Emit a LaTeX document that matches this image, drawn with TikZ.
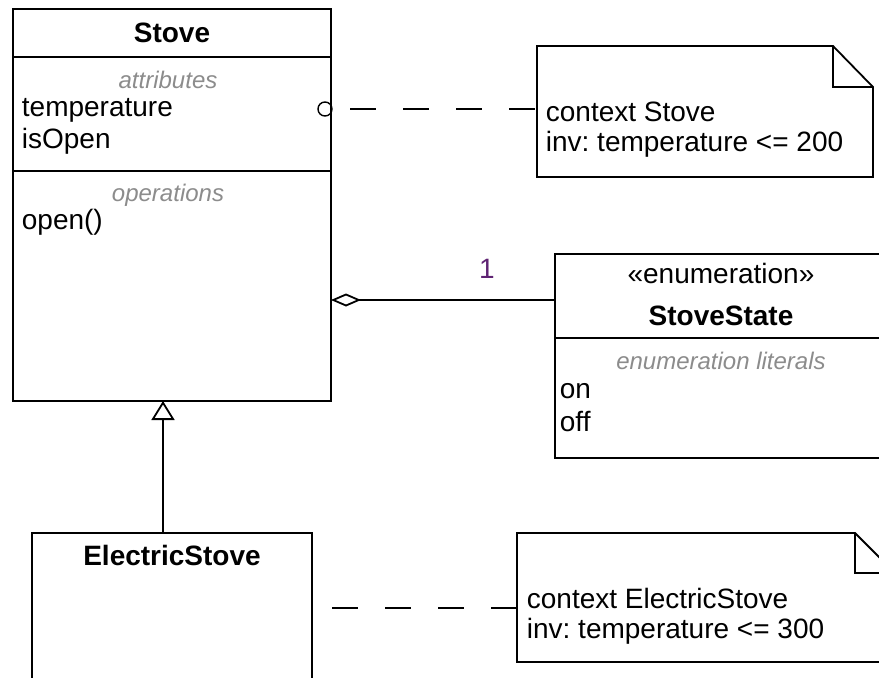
\documentclass[tikz,border=0pt]{standalone}
\usepackage{fontspec}
\setmainfont{Liberation Sans}
\usetikzlibrary{positioning, arrows.meta}

\definecolor{labelgray}{RGB}{140,140,140}
\definecolor{multcol}{RGB}{95,35,115}

\frenchspacing

\begin{document}
\begin{tikzpicture}[
    x=1pt, y=-1pt,
    line width=1.8pt,
    classbox/.style={
        rectangle, draw=black, line width=1.8pt,
        inner sep=0pt, outer sep=0pt},
    notebox/.style={
        rectangle, draw=none, inner sep=0pt, outer sep=0pt},
    cname/.style={
        anchor=base, inner sep=0pt,
        font=\fontsize{28}{30}\selectfont\bfseries},
    member/.style={
        anchor=base west, inner sep=0pt,
        font=\fontsize{28}{30}\selectfont},
    compart/.style={
        anchor=base, inner sep=0pt, text=labelgray,
        font=\fontsize{24}{28}\selectfont\itshape},
    stereo/.style={
        anchor=base, inner sep=0pt,
        font=\fontsize{28}{30}\selectfont},
    attachdot/.style={
        circle, draw=black, line width=1.4pt,
        minimum size=14pt, inner sep=0pt, outer sep=0pt},
    link/.style={dash pattern=on 26pt off 27pt},
    agg/.style={-{Diamond[fill=white, length=30pt, width=13pt]}},
    gen/.style={-{Triangle[fill=white, length=19pt, width=23pt]}}
]

%% ── Canvas ──────────────────────────────────────────────────────
\path[use as bounding box, fill=white] (0,0) rectangle (879,678);
\clip (0,0) rectangle (879,678);

%% ── Class Stove ─────────────────────────────────────────────────
\node[classbox, minimum width=318pt, minimum height=392pt]
    (stove) at (172, 205) {};
\draw ([yshift=-48pt]stove.north west) -- ([yshift=-48pt]stove.north east);
\draw ([yshift=-162pt]stove.north west) -- ([yshift=-162pt]stove.north east);

\node[cname]   (stovename) at (172, 42)  {Stove};
\node[compart] (stoveattr) at (168, 88)  {attributes};
\node[member]  (temp)      at (21, 116)  {temperature};
\node[member]  (isopen)    at (21, 148)  {isOpen};
\node[compart] (stoveops)  at (168, 201) {operations};
\node[member]  (open)      at (21, 229)  {open()};

\node[attachdot] (tempdot) at (325, 109) {};

%% ── Constraint note on Stove ────────────────────────────────────
\node[notebox, minimum width=336pt, minimum height=131pt]
    (note1) at (705, 111.5) {};
\draw (note1.south west) -- (note1.north west)
    -- ([xshift=-40pt]note1.north east)
    -- ([yshift=-41pt]note1.north east)
    -- (note1.south east) -- cycle;
\draw ([xshift=-40pt]note1.north east)
    -- ([xshift=-40pt, yshift=-41pt]note1.north east)
    -- ([yshift=-41pt]note1.north east);

\node[member] (ctx1) at (545, 121) {context Stove};
\node[member] (inv1) at (545, 151) {inv: temperature <= 200};

%% ── Enumeration StoveState ──────────────────────────────────────
\node[classbox, minimum width=332pt, minimum height=84pt]
    (sshead) at (721, 296) {};
\node[classbox, minimum width=332pt, minimum height=120pt,
    below=0pt of sshead] (sslit) {};

\node[stereo]  (ssstereo) at (721, 283) {«enumeration»};
\node[cname]   (ssname)   at (721, 325) {StoveState};
\node[compart] (sslitlbl) at (721, 369) {enumeration literals};
\node[member]  (sson)     at (559, 398) {on};
\node[member]  (ssoff)    at (559, 431) {off};

%% ── Class ElectricStove ─────────────────────────────────────────
\node[classbox, minimum width=280pt, minimum height=150pt]
    (es) at (172, 608) {};
\node[cname] (esname) at (172, 565) {ElectricStove};

%% ── Constraint note on ElectricStove ────────────────────────────
\node[notebox, minimum width=378pt, minimum height=129pt]
    (note2) at (706, 597.5) {};
\draw (note2.south west) -- (note2.north west)
    -- ([xshift=-40pt]note2.north east)
    -- ([yshift=-40pt]note2.north east)
    -- (note2.south east) -- cycle;
\draw ([xshift=-40pt]note2.north east)
    -- ([xshift=-40pt, yshift=-40pt]note2.north east)
    -- ([yshift=-40pt]note2.north east);

\node[member] (ctx2) at (526, 608) {context ElectricStove};
\node[member] (inv2) at (526, 638) {inv: temperature <= 300};

%% ── Note anchors (dashed) ───────────────────────────────────────
\draw[link, dash phase=35pt] (tempdot) -- (tempdot -| note1.west);
\draw[link, dash phase=33pt] (es.east) -- (es.east -| note2.west);

%% ── Aggregation Stove <>── StoveState ───────────────────────────
\coordinate (ssport) at ([yshift=-4pt]sshead.west);
\draw[agg] (ssport) -- (ssport -| stove.east);
\node[stereo, text=multcol] (mult) at (487, 278) {1};

%% ── Generalization ElectricStove ─▷ Stove ───────────────────────
\coordinate (esport) at ([xshift=-9pt]es.north);
\draw[gen] (esport) -- (esport |- stove.south);

\end{tikzpicture}
\end{document}
